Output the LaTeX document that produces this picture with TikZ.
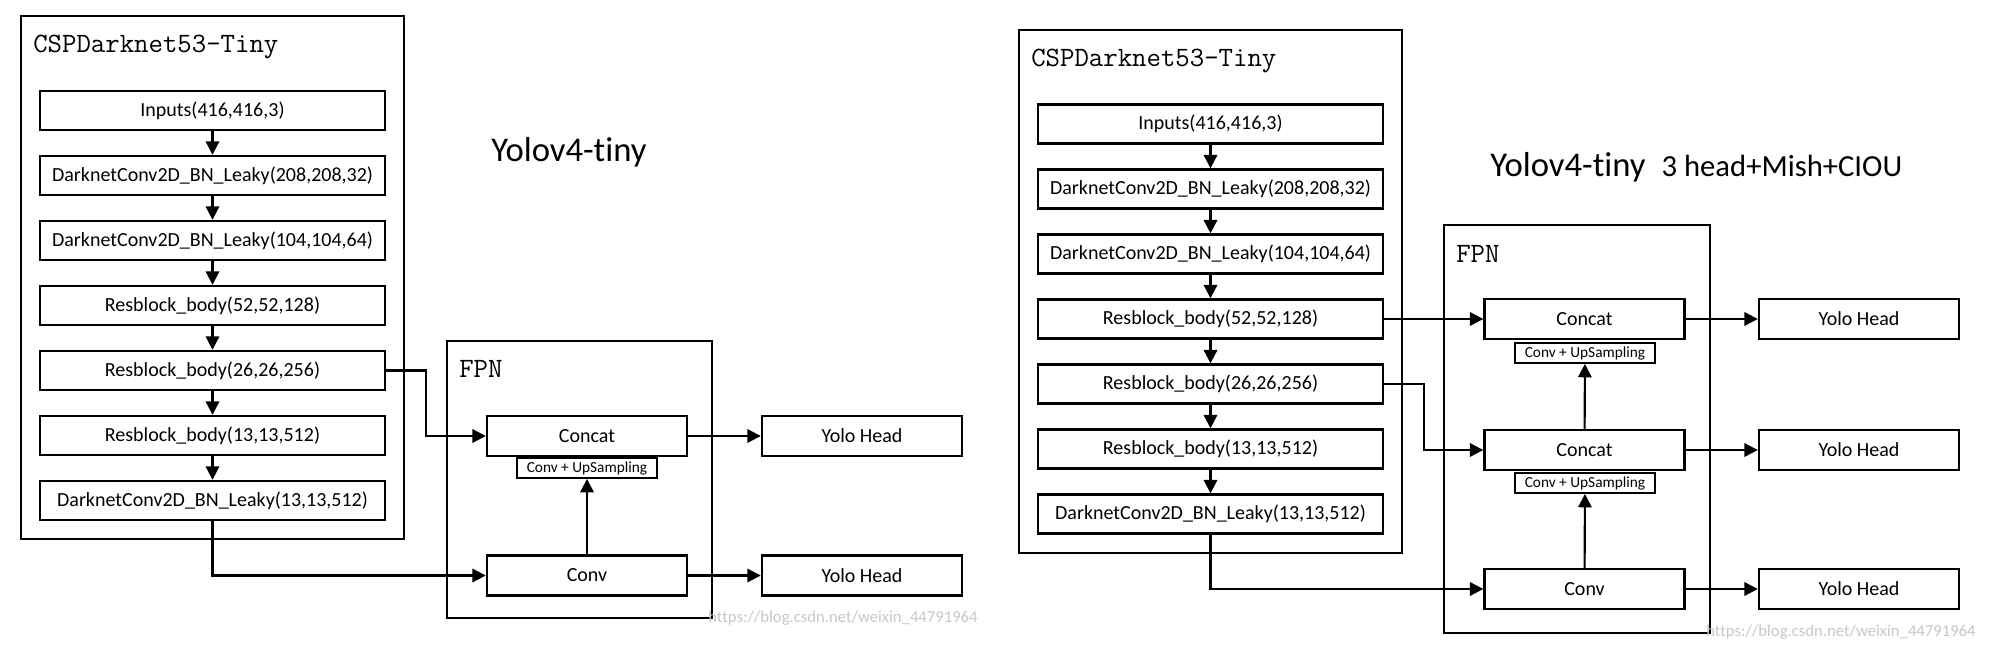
\documentclass[tikz,border=0pt]{standalone}
\usepackage{fontspec}
\setmainfont{Carlito}[Ligatures=NoCommon]
\usetikzlibrary{arrows.meta}
\tikzset{>={Triangle[length=10pt,width=10pt]}}
\tikzset{
  blk/.style={draw,line width=1.8pt,minimum width=258.75pt,minimum height=29.25pt,inner sep=0pt,font=\fontsize{15}{18}\selectfont},
  fblk/.style={blk,minimum width=150pt,minimum height=30pt},
  upsmp/.style={draw,line width=1.4pt,minimum width=105pt,minimum height=15pt,inner sep=0pt,font=\fontsize{11.5}{13}\selectfont},
  outer/.style={line width=1pt},
  ttl/.style={anchor=base west,inner sep=0pt,font=\ttfamily\fontsize{21}{24}\selectfont},
  bigname/.style={anchor=base west,inner sep=0pt,font=\fontsize{26}{30}\selectfont},
  wmark/.style={text=black!22,inner sep=0pt,font=\fontsize{12.5}{14}\selectfont},
  lnk/.style={->,line width=1.6pt}
}

\begin{document}
\begin{tikzpicture}[x=0.75pt,y=-0.75pt]
\useasboundingbox (0,0) rectangle (2000,646);

% left: Yolov4-tiny
\draw[outer] (21,16) rectangle (404,539);
\node[ttl] (ltitle) at (33,52) {CSPDarknet53-Tiny};
\foreach \t [count=\i] in {{Inputs(416,416,3)},{DarknetConv2D\_BN\_Leaky(208,208,32)},{DarknetConv2D\_BN\_Leaky(104,104,64)},{Resblock\_body(52,52,128)},{Resblock\_body(26,26,256)},{Resblock\_body(13,13,512)},{DarknetConv2D\_BN\_Leaky(13,13,512)}}
  \node[blk] (l\i) at (212.5,{110.5+65*(\i-1)}) {\t};
\foreach \i [evaluate=\i as \j using int(\i+1)] in {1,...,6}
  \draw[lnk] (l\i) -- (l\j);

\draw[outer] (447,341) rectangle (712,618);
\node[ttl] (lfpn) at (459,377) {FPN};
\node[fblk] (lcat) at (587,436) {Concat};
\node[upsmp] (lups) at (587,468) {Conv + UpSampling};
\node[fblk] (lconv) at (587,575.5) {Conv};
\node[fblk] (lhead1) at (862,436) {Yolo Head};
\node[fblk] (lhead2) at (862,575.5) {Yolo Head};

\draw[lnk] (l5.east) -- ++(40,0) |- (lcat.west);
\draw[lnk] (l7.south) |- (lconv.west);
\draw[lnk] (lconv) -- (lups);
\draw[lnk] (lcat) -- (lhead1);
\draw[lnk] (lconv) -- (lhead2);

\node[bigname] (lname) at (491,161) {Yolov4-tiny};
\node[wmark] (lwm) at (843,618) {https://blog.csdn.net/weixin\_44791964};

% right: 3 heads
\draw[outer] (1019,30) rectangle (1402,553);
\node[ttl] (rtitle) at (1031,66) {CSPDarknet53-Tiny};
\foreach \t [count=\i] in {{Inputs(416,416,3)},{DarknetConv2D\_BN\_Leaky(208,208,32)},{DarknetConv2D\_BN\_Leaky(104,104,64)},{Resblock\_body(52,52,128)},{Resblock\_body(26,26,256)},{Resblock\_body(13,13,512)},{DarknetConv2D\_BN\_Leaky(13,13,512)}}
  \node[blk] (r\i) at (1210.5,{124+65*(\i-1)}) {\t};
\foreach \i [evaluate=\i as \j using int(\i+1)] in {1,...,6}
  \draw[lnk] (r\i) -- (r\j);

\draw[outer] (1444,225) rectangle (1710,633);
\node[ttl] (rfpn) at (1456,262) {FPN};
\node[fblk] (rcat1) at (1584.5,319) {Concat};
\node[upsmp] (rups1) at (1585,353) {Conv + UpSampling};
\node[fblk] (rcat2) at (1584.5,450) {Concat};
\node[upsmp] (rups2) at (1585,483) {Conv + UpSampling};
\node[fblk] (rconv) at (1584.5,589) {Conv};
\node[fblk] (rhead1) at (1859,319) {Yolo Head};
\node[fblk] (rhead2) at (1859,450) {Yolo Head};
\node[fblk] (rhead3) at (1859,589) {Yolo Head};

\draw[lnk] (r4) -- (rcat1);
\draw[lnk] (r5.east) -- ++(40,0) |- (rcat2.west);
\draw[lnk] (r7.south) |- (rconv.west);
\draw[lnk] (rconv) -- (rups2);
\draw[lnk] (rcat2) -- (rups1);
\draw[lnk] (rcat1) -- (rhead1);
\draw[lnk] (rcat2) -- (rhead2);
\draw[lnk] (rconv) -- (rhead3);

\node[bigname] (rname) at (1490,176) {Yolov4-tiny\hspace{12pt}{\fontsize{23}{26}\selectfont 3 head+Mish+CIOU}};
\node[wmark] (rwm) at (1841,632) {https://blog.csdn.net/weixin\_44791964};
\end{tikzpicture}
\end{document}
